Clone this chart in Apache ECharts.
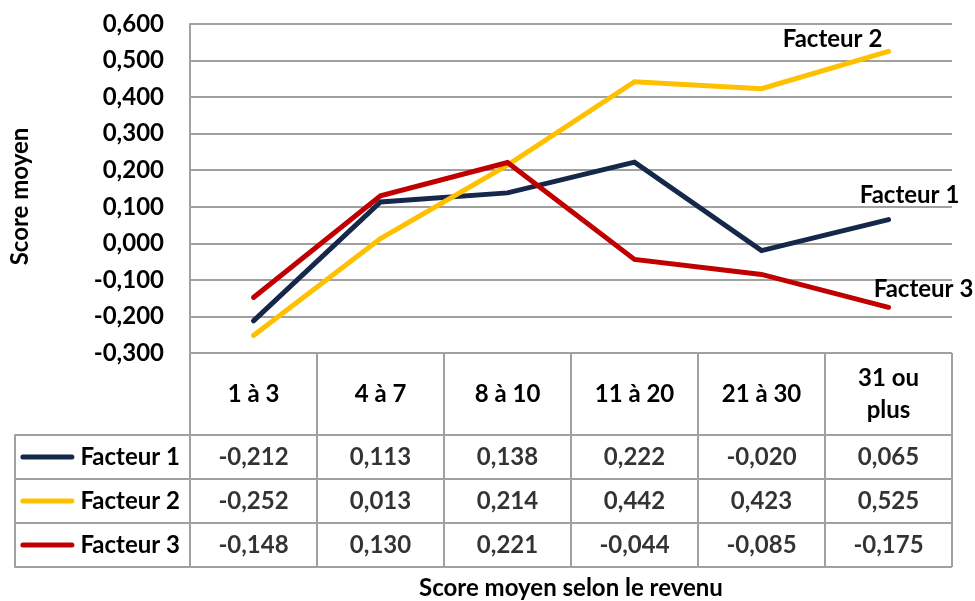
<!DOCTYPE html>
<html>
<head>
<meta charset="utf-8">
<script src="https://cdn.jsdelivr.net/npm/echarts@6/dist/echarts.min.js"></script>
<style>
  html, body { margin: 0; padding: 0; background: #ffffff; }
  #chart { width: 975px; height: 601px; }
</style>
</head>
<body>
<div id="chart"></div>
<script>
// Income brackets (x categories)
const categories = ['1 à 3', '4 à 7', '8 à 10', '11 à 20', '21 à 30', '31 ou\nplus'];

// Mean factor scores per bracket
const seriesNames = ['Facteur 1', 'Facteur 2', 'Facteur 3'];
const facteur1 = [-0.212, 0.113, 0.138, 0.222, -0.020, 0.065];
const facteur2 = [-0.252, 0.013, 0.214, 0.442, 0.423, 0.525];
const facteur3 = [-0.148, 0.130, 0.221, -0.044, -0.085, -0.175];

// Value axis range and step
const yMin = -0.3;
const yMax = 0.6;
const yStep = 0.1;

const seriesValues = [facteur1, facteur2, facteur3];
const colors = ['#15284a', '#ffc000', '#c00000'];
const FONT = 'Lato, "Open Sans", sans-serif';
const FS = 24;
const GRID_GRAY = '#a0a0a0';

function frNum(v) {
  if (Math.abs(v) < 1e-9) v = 0;
  return v.toFixed(3).replace('.', ',');
}

// end-of-line name labels, relative to the last point
const endLabelOffsets = [[21, -24], [-56, -12], [35, -18]];

const lineSeries = seriesNames.map((name, i) => ({
  name: name,
  type: 'line',
  xAxisIndex: 0,
  yAxisIndex: 0,
  data: seriesValues[i],
  symbol: 'circle',
  symbolSize: 1,
  showSymbol: true,
  lineStyle: { color: colors[i], width: 5, cap: 'round', join: 'miter' },
  itemStyle: { color: colors[i] },
  label: {
    show: true,
    position: 'inside',
    offset: endLabelOffsets[i],
    formatter: p => (p.dataIndex === seriesValues[i].length - 1 ? p.seriesName : ''),
    fontFamily: FONT,
    fontWeight: 'bold',
    fontSize: FS,
    color: '#000'
  },
  z: 3 + i
}));

// data table cells: [column, row, value]
const tableCells = [];
seriesValues.forEach((vals, r) => vals.forEach((v, c) => tableCells.push([c, r, v])));

const legendRich = {
  g: { width: 6 },
  t: { fontFamily: FONT, fontWeight: 'bold', fontSize: FS, color: '#000' }
};
colors.forEach((c, i) => {
  legendRich['s' + i] = { width: 54, height: 5, backgroundColor: c, borderRadius: 2.5 };
});

const option = {
  animation: false,
  backgroundColor: '#ffffff',
  grid: [
    { left: 190, right: 23, top: 24, bottom: 248, containLabel: false },
    { left: 190, right: 23, top: 435, bottom: 32, containLabel: false }
  ],
  xAxis: [
    {
      gridIndex: 0,
      type: 'category',
      data: categories,
      boundaryGap: true,
      axisLine: { show: false, onZero: false },
      axisTick: { show: true, length: 82, inside: false, lineStyle: { color: GRID_GRAY, width: 2 } },
      axisLabel: {
        show: true,
        margin: 41,
        verticalAlign: 'middle',
        interval: 0,
        fontFamily: FONT, fontWeight: 'bold', fontSize: FS, color: '#000',
        lineHeight: 32
      },
      splitLine: { show: false }
    },
    {
      gridIndex: 1,
      type: 'category',
      data: categories,
      boundaryGap: true,
      axisLine: { show: false, onZero: false },
      axisTick: { show: false },
      axisLabel: { show: false },
      splitLine: { show: true, lineStyle: { color: GRID_GRAY, width: 2 } },
      name: 'Score moyen selon le revenu',
      nameLocation: 'middle',
      nameGap: 21,
      nameTextStyle: { fontFamily: FONT, fontWeight: 'bold', fontSize: FS, color: '#000', verticalAlign: 'middle' }
    }
  ],
  yAxis: [
    {
      gridIndex: 0,
      type: 'value',
      min: yMin,
      max: yMax,
      interval: yStep,
      axisLine: { show: true, lineStyle: { color: GRID_GRAY, width: 2 } },
      axisTick: { show: false },
      axisLabel: {
        margin: 26,
        formatter: v => frNum(v),
        fontFamily: FONT, fontWeight: 'bold', fontSize: FS, color: '#000'
      },
      splitLine: { show: true, lineStyle: { color: GRID_GRAY, width: 2 } },
      name: 'Score moyen',
      nameLocation: 'middle',
      nameRotate: 90,
      nameGap: 170,
      nameTextStyle: { fontFamily: FONT, fontWeight: 'bold', fontSize: FS, color: '#000', verticalAlign: 'middle', padding: [0, 16, 0, 0] }
    },
    {
      gridIndex: 1,
      type: 'category',
      data: seriesNames,
      inverse: true,
      boundaryGap: true,
      axisLine: { show: false, onZero: false },
      axisTick: { show: true, length: 175, inside: false, lineStyle: { color: GRID_GRAY, width: 2 } },
      axisLabel: {
        margin: 10,
        formatter: (val, idx) => '{s' + idx + '|}{g|}{t|' + val + '}',
        rich: legendRich
      },
      splitLine: { show: true, lineStyle: { color: GRID_GRAY, width: 2 } }
    },
    {
      // outer left border of the legend column
      gridIndex: 1,
      type: 'category',
      data: seriesNames,
      position: 'left',
      offset: 175,
      axisLine: { show: true, onZero: false, lineStyle: { color: GRID_GRAY, width: 2 } },
      axisTick: { show: false },
      axisLabel: { show: false },
      splitLine: { show: false }
    }
  ],
  series: lineSeries.concat([
    {
      name: 'table',
      type: 'scatter',
      xAxisIndex: 1,
      yAxisIndex: 1,
      data: tableCells,
      symbolSize: 1,
      itemStyle: { color: 'rgba(0,0,0,0)' },
      label: {
        show: true,
        position: 'inside',
        formatter: p => frNum(p.value[2]),
        fontFamily: FONT, fontWeight: 'bold', fontSize: FS, color: '#000'
      },
      silent: true
    }
  ])
};

const chart = echarts.init(document.getElementById('chart'), null, { renderer: 'canvas' });
chart.setOption(option);
</script>
</body>
</html>
